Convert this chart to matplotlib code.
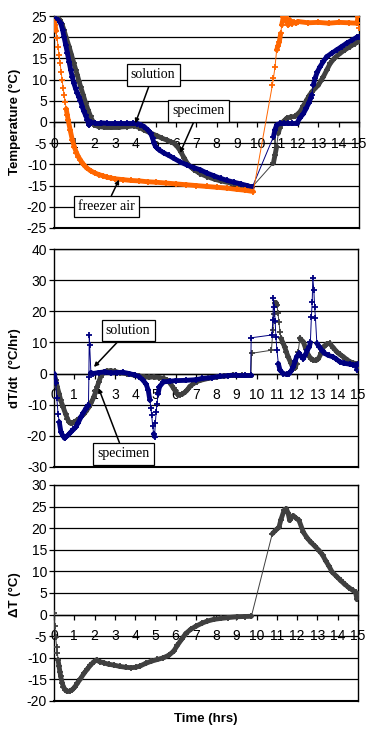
import matplotlib
matplotlib.use("Agg")
import matplotlib.pyplot as plt
import numpy as np
from matplotlib.collections import LineCollection

plt.rcParams['font.family'] = ['Liberation Sans', 'DejaVu Sans']
plt.rcParams['axes.unicode_minus'] = False

# ---- panel 1: temperatures (deg C) vs time (hrs) ----
air_t = [0, 0.05, 0.1, 0.15, 0.2, 0.25, 0.3, 0.35, 0.4, 0.45, 0.5, 0.55, 0.6, 0.65, 0.7,
         0.8, 0.9, 1.0, 1.1, 1.2, 1.3, 1.4, 1.5, 1.6, 1.8, 2.0, 2.2, 2.4, 2.6, 2.8, 3.0,
         3.4, 3.8, 4.2, 4.6, 5.0, 5.5, 6.0, 6.5, 7.0, 7.5, 8.0, 8.5, 9.0, 9.4, 9.8,
         10.74, 10.79, 10.87, 10.95, 11.02, 11.08, 11.15, 11.2, 11.28, 11.35, 11.41, 11.47,
         11.52, 11.6, 11.7, 11.78, 11.9, 12.0, 12.5, 13.0, 13.5, 14.0, 14.5, 14.9, 14.95, 15.0]
air_v = [23.5, 22.8, 21.5, 19.8, 17.8, 15.8, 13.8, 11.8, 9.9, 8.0, 6.3, 4.7, 3.1, 1.7, 0.4,
         -2.0, -4.2, -5.9, -7.2, -8.2, -9.0, -9.7, -10.3, -10.8, -11.5, -12.0, -12.4, -12.7,
         -13.0, -13.2, -13.4, -13.6, -13.8, -13.9, -14.1, -14.2, -14.4, -14.6, -14.8, -15.0,
         -15.2, -15.4, -15.6, -15.9, -16.1, -16.4,
         8.7, 10.3, 13.0, 17.0, 18.0, 18.9, 20.9, 22.9, 24.8, 25.2, 25.0, 23.5, 22.9, 24.0,
         23.2, 23.5, 23.3, 23.7, 23.4, 23.5, 23.3, 23.5, 23.4, 23.3, 24.8, 22.2]

sol_t = [0, 0.08, 0.2, 0.33, 0.42, 0.49, 0.58, 0.66, 0.74, 0.82, 0.9, 0.98, 1.06, 1.15,
         1.22, 1.3, 1.39, 1.46, 1.55, 1.64, 1.72, 1.8, 2.0, 2.3, 2.6, 3.0, 3.3, 3.6, 3.9,
         4.1, 4.25, 4.43, 4.6, 4.75, 4.85, 4.92, 5.0, 5.08, 5.2, 5.4, 5.65, 5.9, 6.2, 6.56,
         6.9, 7.2, 7.5, 7.87, 8.2, 8.52, 8.85, 9.18, 9.5, 9.75,
         10.79, 10.87, 10.95, 11.12, 11.3, 11.5, 11.7, 11.94, 12.1, 12.27, 12.4, 12.52,
         12.62, 12.68, 12.75, 12.84, 12.95, 13.08, 13.25, 13.41, 13.65, 13.9, 14.15, 14.4,
         14.65, 14.9, 15.0]
sol_v = [23.5, 24.3, 24.0, 23.3, 21.8, 20.1, 18.1, 16.2, 14.2, 12.3, 10.6, 9.1, 7.9, 6.8,
         5.9, 5.0, 3.6, 2.6, 1.6, 0.5, -0.7, -0.1, -0.2, -0.2, -0.3, -0.3, -0.3, -0.3, -0.3,
         -0.4, -0.6, -1.1, -1.8, -2.7, -3.8, -5.0, -5.8, -6.2, -6.7, -7.3, -7.9, -8.6, -9.4,
         -10.2, -10.8, -11.3, -12.0, -12.7, -13.3, -13.8, -14.2, -14.6, -15.0, -15.4,
         -3.5, -1.8, -0.7, -0.3, -0.3, -0.3, -0.3, -0.3, 1.0, 2.0, 3.2, 4.4, 5.6, 6.4, 8.7,
         10.3, 11.8, 13.0, 14.3, 15.4, 16.2, 17.0, 17.8, 18.6, 19.3, 20.0, 20.1]

spec_t = [0, 0.16, 0.3, 0.4, 0.49, 0.6, 0.74, 0.86, 0.98, 1.07, 1.15, 1.23, 1.31, 1.44,
          1.56, 1.68, 1.8, 1.9, 1.97, 2.2, 2.46, 2.8, 3.2, 3.6, 3.93, 4.2, 4.43, 4.75, 5.08,
          5.3, 5.57, 5.75, 5.9, 6.0, 6.1, 6.23, 6.4, 6.56, 6.75, 6.9, 7.2, 7.54, 7.9, 8.2,
          8.7, 9.18, 9.5, 9.75,
          10.79, 10.87, 10.95, 11.03, 11.1, 11.2, 11.3, 11.45, 11.65, 11.85, 12.1, 12.25,
          12.43, 12.55, 12.68, 12.85, 13.0, 13.12, 13.25, 13.42, 13.58, 13.8, 14.07, 14.3,
          14.56, 14.8, 15.0]
spec_v = [23.5, 24.8, 24.0, 23.0, 21.7, 19.9, 17.8, 15.8, 13.8, 12.3, 11.0, 9.6, 8.3, 6.3,
          4.4, 2.8, 1.3, 0.2, -0.7, -1.1, -1.2, -1.2, -1.2, -1.1, -0.9, -1.3, -1.9, -2.6,
          -3.3, -3.8, -4.3, -4.7, -5.0, -5.5, -6.0, -7.0, -8.5, -9.8, -10.7, -11.3, -12.2,
          -12.9, -13.5, -13.9, -14.4, -14.9, -15.1, -15.3,
          -9.7, -7.8, -5.8, -2.7, -1.4, -0.3, 0.2, 0.9, 1.2, 1.3, 2.4, 3.7, 5.2, 6.2, 7.1,
          8.0, 8.7, 9.7, 10.7, 12.3, 13.8, 15.1, 16.2, 17.0, 17.8, 18.5, 19.0]

# ---- panel 2: cooling / warming rate dT/dt (deg C/hr) ----
sol_rate_t = [0, 0.08, 0.14, 0.2, 0.26, 0.34, 0.43, 0.52, 0.59, 0.7, 0.84, 0.96, 1.08, 1.2,
              1.33, 1.45, 1.57, 1.66, 1.7, 1.72, 1.74, 1.76, 1.82, 1.93, 2.2, 2.5, 2.8, 3.1,
              3.4, 3.7, 4.0, 4.2, 4.4, 4.55, 4.65, 4.73, 4.78, 4.82, 4.87, 4.92, 4.96, 5.0,
              5.04, 5.08, 5.14, 5.2, 5.4, 5.7, 6.0, 6.5, 7.0, 7.3, 7.8, 8.2, 8.6, 9.0, 9.4,
              9.7, 9.73,
              10.75, 10.8, 10.83, 10.87, 10.91, 10.95, 11.0, 11.07, 11.15, 11.3, 11.48, 11.6,
              11.7, 11.8, 11.9, 11.97, 12.1, 12.2, 12.3, 12.4, 12.5, 12.6, 12.65, 12.7, 12.74,
              12.77, 12.82, 12.86, 12.9, 12.97, 13.1, 13.2, 13.35, 13.55, 13.75, 13.9, 14.1,
              14.3, 14.6, 14.75, 14.9, 14.97, 15.0]
sol_rate_v = [0, -3, -8, -13, -15.6, -18.8, -20, -20.8, -20.4, -19.8, -18.8, -18, -17.2,
              -15.8, -14, -12.6, -11.3, -10.5, -10.2, -1, 12.4, 9.1, 0.3, 0, 0.3, 0.5, 0.2,
              0.3, 0.4, 0, -0.5, -1, -2.2, -3.5, -5.4, -8.6, -11, -13.4, -17, -19.4, -20.3,
              -16, -12.5, -9.7, -6.5, -4.3, -2.7, -2.5, -2.3, -2.2, -2, -1.6, -1.3, -0.9,
              -0.7, -0.5, -0.5, -0.5, 11.5,
              12.4, 17.2, 24.2, 21.5, 17, 11.8, 7.5, 3.2, 1.1, 0, -0.3, 0, 0.8, 2.1, 4, 5.4,
              6.5, 5.5, 4.8, 6, 7.5, 8.6, 10, 18.3, 23, 30.6, 27, 21.5, 18, 9.7, 8.6, 7.5,
              6.5, 5.8, 5.4, 4.8, 3.8, 3.3, 3, 2.8, 2.7, 1.1, 3.0]

spec_rate_t = [0, 0.08, 0.16, 0.25, 0.33, 0.45, 0.57, 0.66, 0.74, 0.82, 0.9, 1.0, 1.15, 1.3,
               1.48, 1.6, 1.72, 1.85, 1.97, 2.05, 2.13, 2.22, 2.3, 2.38, 2.46, 2.6, 2.79,
               3.0, 3.28, 3.6, 3.94, 4.2, 4.43, 4.7, 4.92, 5.2, 5.41, 5.6, 5.74, 5.9, 6.07,
               6.2, 6.31, 6.45, 6.56, 6.7, 6.89, 7.05, 7.22, 7.6, 8.03, 8.4, 8.85, 9.3, 9.72,
               9.75,
               10.73, 10.8, 10.85, 10.9, 10.95, 11.0, 11.05, 11.1, 11.15, 11.2, 11.3, 11.38,
               11.46, 11.55, 11.68, 11.8, 11.9, 11.97, 12.05, 12.13, 12.2, 12.3, 12.42, 12.55,
               12.68, 12.8, 12.92, 13.05, 13.18, 13.3, 13.45, 13.6, 13.78, 13.95, 14.1, 14.27,
               14.45, 14.6, 14.75, 14.9, 15.0]
spec_rate_v = [0, -2, -4.3, -6.5, -8.6, -10.8, -13, -14.5, -15.6, -16, -15.9, -15.6, -15,
               -14.2, -13, -12, -10.8, -9.2, -7.5, -6, -4.3, -2.6, -1, -0.2, 0.5, 0.8, 0.9,
               0.7, 0.2, -0.1, -0.5, -0.8, -1.1, -1.2, -1.1, -1.3, -1.6, -2.2, -3.2, -4.8,
               -6.5, -6.8, -6.7, -6.1, -5.4, -4.2, -3.2, -2.6, -2.2, -1.6, -1.1, -0.8, -0.5,
               -0.5, -0.5, 6.5,
               7.5, 14, 19, 22.6, 22.8, 22, 19.5, 16.6, 13.5, 11.3, 9.8, 8.6, 7, 5.4, 3.5,
               1.6, 1.8, 3.2, 7, 11.3, 10.8, 10.2, 8, 5.9, 4.8, 4.3, 4.2, 4.8, 6.5, 8.6, 9.5,
               9.7, 8.3, 7, 6.2, 5.4, 4.5, 3.8, 3.4, 3.2, 2.2]

# ---- panel 3: temperature difference (deg C) ----
dT_t = [0, 0.04, 0.08, 0.13, 0.17, 0.2, 0.25, 0.29, 0.33, 0.4, 0.46, 0.55, 0.66, 0.78, 0.9,
        1.02, 1.15, 1.3, 1.48, 1.65, 1.8, 1.95, 2.1, 2.25, 2.47, 2.7, 2.96, 3.25, 3.54, 3.8,
        4.03, 4.25, 4.52, 4.8, 5.1, 5.4, 5.67, 5.9, 6.09, 6.3, 6.5, 6.75, 7.0, 7.3, 7.57,
        7.9, 8.22, 8.6, 9.05, 9.4, 9.74,
        10.77, 10.93, 11.1, 11.2, 11.35, 11.46, 11.55, 11.63, 11.72, 11.8, 11.95, 12.09,
        12.3, 12.48, 12.66, 12.88, 13.08, 13.25, 13.4, 13.57, 13.73, 13.95, 14.14, 14.35,
        14.56, 14.75, 14.88, 14.95, 15.0]
dT_v = [0.4, -2.7, -5.2, -7.4, -9, -10.5, -12, -13.2, -14.3, -15.8, -16.7, -17.4, -17.8,
        -17.7, -17.4, -16.8, -15.9, -14.9, -13.6, -12.6, -11.7, -11.0, -10.5, -10.9, -11.2,
        -11.5, -11.7, -12.0, -12.2, -12.3, -12.2, -11.9, -11.3, -10.8, -10.4, -10.0, -9.4,
        -8.5, -7.1, -5.7, -4.4, -3.4, -2.7, -2.0, -1.5, -1.1, -0.9, -0.7, -0.5, -0.45, -0.4,
        18.7, 19.5, 20.2, 22, 24.1, 24.5, 23.5, 21.8, 22.5, 22.9, 22.3, 21.8, 19.1, 17.8,
        16.8, 15.8, 14.8, 13.8, 12.5, 11.2, 9.8, 8.8, 7.9, 7.0, 6.2, 5.6, 5.2, 3.5, 4.6]

AIR = '#FF6600'
SOL = '#000080'
SPEC = '#404040'


def setup(ax, ylo, yhi, step):
    """ Excel-like axes: x axis crossing at zero, black horizontal gridlines """
    ax.set_xlim(0, 15)
    ax.set_ylim(ylo, yhi)
    ax.set_xticks(range(16))
    ax.set_yticks(np.arange(ylo, yhi + 1, step))
    ax.grid(axis='y', color='black', lw=0.9)
    ax.set_axisbelow(True)
    ax.spines['bottom'].set_position(('data', 0))
    for s in ax.spines.values():
        s.set_linewidth(1.0)
    ax.axhline(ylo, color='black', lw=1.5, clip_on=False)
    ax.tick_params(axis='x', direction='out', length=3.5, width=0.9, pad=7, labelsize=10)
    ax.tick_params(axis='y', direction='out', length=3.5, width=0.9, pad=1.5, labelsize=10)


def draw_series(ax, t, v, color, z):
    """ thin line with + markers, thick band where the logged points were dense """
    t = np.asarray(t, float)
    v = np.asarray(v, float)
    ax.plot(t, v, color=color, lw=0.7, marker='+', ms=4.5, mew=1.3, zorder=z)
    px = ax.transData.transform(np.column_stack([t, v]))
    dt = np.diff(t)
    slope = np.abs(np.diff(px[:, 1])) / np.maximum(dt, 1e-6)
    dense = (dt < 0.8) & (slope < 130)
    segs = [[(t[i], v[i]), (t[i + 1], v[i + 1])] for i in np.where(dense)[0]]
    ax.add_collection(LineCollection(segs, colors=color, linewidths=3.5,
                                     capstyle='round', zorder=z))


def label_box(ax, text, xy, xytext):
    ax.annotate(text, xy=xy, xytext=xytext, ha='center', va='center',
                fontsize=10, family='Liberation Serif', zorder=10,
                bbox=dict(boxstyle='square,pad=0.3', fc='white', ec='black', lw=0.9),
                arrowprops=dict(arrowstyle='-|>', color='black', lw=1.1,
                                mutation_scale=6, shrinkA=0, shrinkB=0))


fig = plt.figure(figsize=(3.74, 7.34), dpi=100)
ax1 = fig.add_axes([0.1444, 0.6894, 0.8155, 0.2888])
ax2 = fig.add_axes([0.1444, 0.3642, 0.8128, 0.2962])
ax3 = fig.add_axes([0.1444, 0.0450, 0.8128, 0.2943])

setup(ax1, -25, 25, 5)
setup(ax2, -30, 40, 10)
setup(ax3, -20, 30, 5)

draw_series(ax1, spec_t, spec_v, SPEC, 3)
draw_series(ax1, sol_t, sol_v, SOL, 4)
draw_series(ax1, air_t, air_v, AIR, 5)
label_box(ax1, 'solution', (4.0, -0.3), (4.87, 11.1))
label_box(ax1, 'specimen', (6.2, -7.3), (7.11, 2.6))
label_box(ax1, 'freezer air', (3.2, -13.6), (2.56, -20.0))

draw_series(ax2, spec_rate_t, spec_rate_v, SPEC, 3)
draw_series(ax2, sol_rate_t, sol_rate_v, SOL, 4)
label_box(ax2, 'solution', (1.97, 2.1), (3.66, 13.8))
label_box(ax2, 'specimen', (2.2, -4.7), (3.44, -25.9))

draw_series(ax3, dT_t, dT_v, SPEC, 3)

lab = dict(fontsize=9.5, fontweight='bold', rotation=90, ha='center', va='center')
fig.text(15 / 374, 1 - 122 / 734, 'Temperature (°C)', **lab)
fig.text(15 / 374, 1 - 368 / 734, 'dT/dt  (°C/hr)', **lab)
fig.text(15 / 374, 1 - 595 / 734, 'ΔT (°C)', **lab)
fig.text(206 / 374, 1 - 719 / 734, 'Time (hrs)', fontsize=9.5, fontweight='bold',
         ha='center', va='center')

fig.savefig('out.png', dpi=100)
